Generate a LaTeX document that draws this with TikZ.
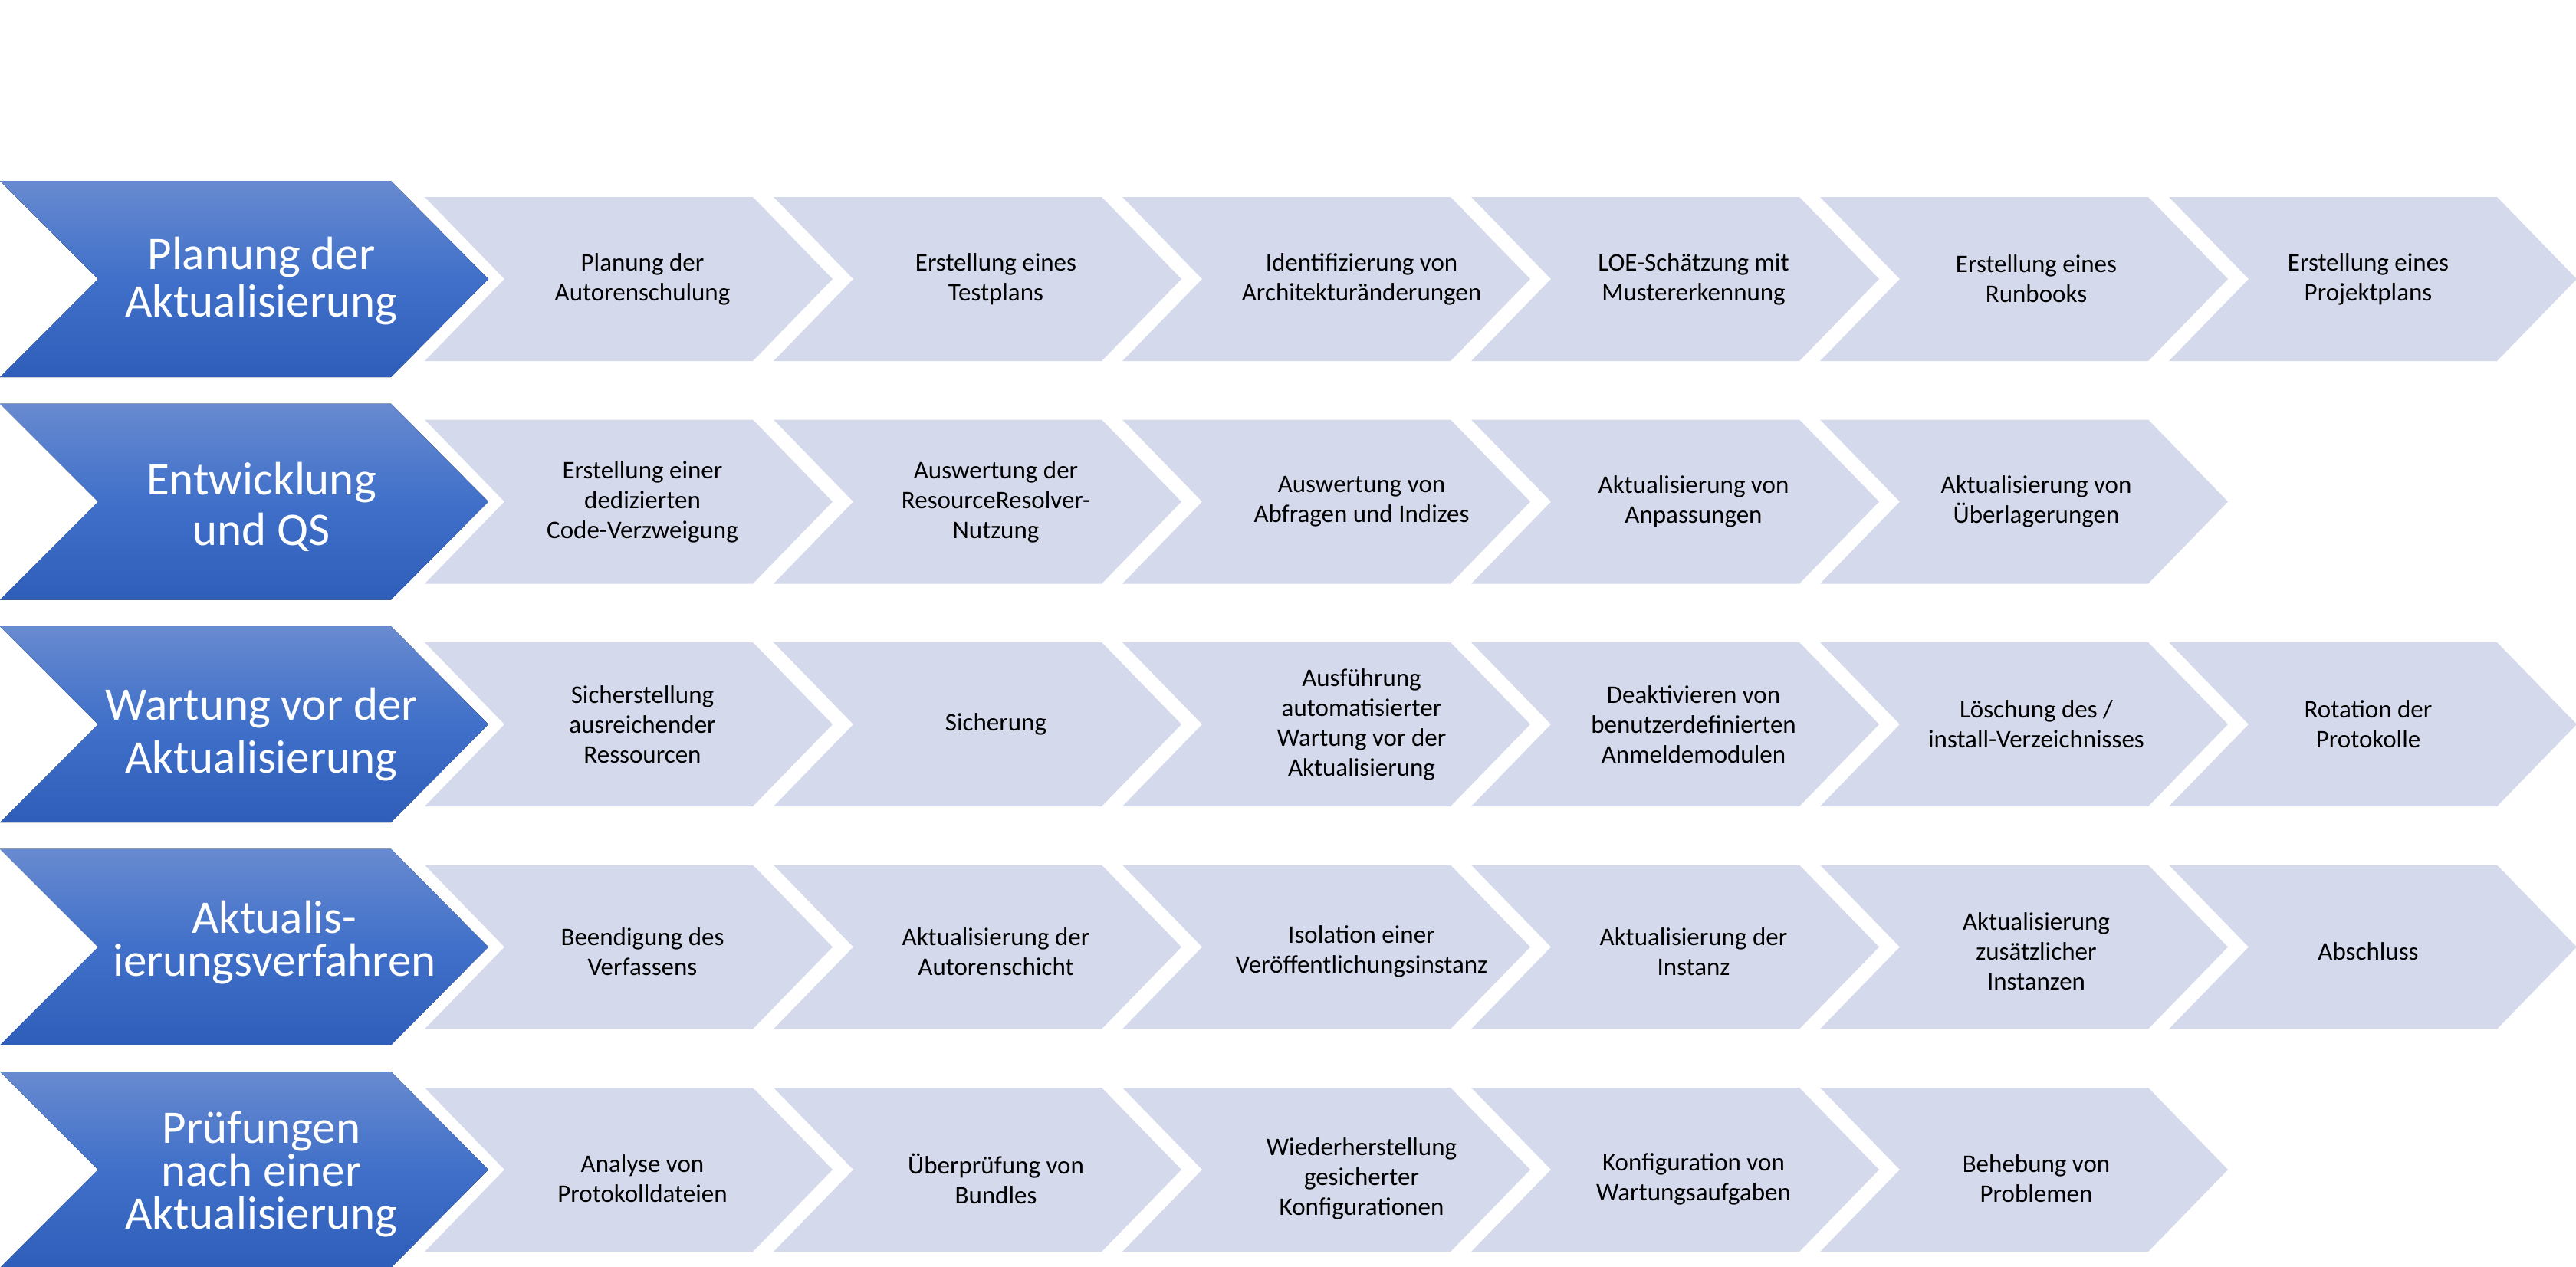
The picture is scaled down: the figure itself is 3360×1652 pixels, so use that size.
\documentclass[tikz,border=0pt]{standalone}
\usepackage{fontspec}
\setmainfont{Carlito}
\definecolor{bigtop}{RGB}{104,138,208}
\definecolor{bigmid}{RGB}{64,112,201}
\definecolor{bigbot}{RGB}{46,94,185}
\definecolor{chevlight}{RGB}{212,217,235}
\newcommand{\BigChev}[5]{% name, center y, baselineskip, text position, text
  \fill[bigfill] (0,#2-128) -- (510,#2-128) -- (637,#2) -- (510,#2+128) -- (0,#2+128) -- (128,#2) -- cycle;
  \node[bigtext=#3] (#1) at (#4) {#5};
}
\newcommand{\SmallChev}[5]{% name, index, center y, text y shift, text
  \pgfmathsetmacro\lx{554+455*#2}
  \pgfmathsetmacro\cx{{0,6,28,6,-2,-24}[#2]}
  \fill[smallfill] (\lx,#3-107) -- (\lx+428,#3-107) -- (\lx+532,#3) -- (\lx+428,#3+107) -- (\lx,#3+107) -- (\lx+104,#3) -- cycle;
  \node[smalltext] (#1) at (\lx+284+\cx,#3+#4) {#5};
}
\begin{document}
\begin{tikzpicture}[x=1pt,y=-1pt,
  bigfill/.style={top color=bigtop, bottom color=bigbot, middle color=bigmid, draw=none},
  smallfill/.style={fill=chevlight, draw=none},
  bigtext/.style={text=white, align=center, inner sep=0pt, font=\fontsize{61}{#1}\selectfont},
  smalltext/.style={text=black, align=center, inner sep=0pt, font=\fontsize{33}{39}\selectfont}]
\useasboundingbox (0,0) rectangle (3360,1652);
\fill[white] (0,0) rectangle (3360,1652);
% Row 1
\BigChev{r1}{364}{62}{341,367}{Planung der\\Aktualisierung}
\SmallChev{r1c1}{0}{364}{0}{Planung der\\Autorenschulung}
\SmallChev{r1c2}{1}{364}{0}{Erstellung eines\\Testplans}
\SmallChev{r1c3}{2}{364}{0}{Identifizierung von\\Architekturänderungen}
\SmallChev{r1c4}{3}{364}{0}{LOE-Schätzung mit\\Mustererkennung}
\SmallChev{r1c5}{4}{364}{0}{Erstellung eines\\Runbooks}
\SmallChev{r1c6}{5}{364}{0}{Erstellung eines\\Projektplans}
% Row 2
\BigChev{r2}{654.5}{66}{341,661}{Entwicklung\\und QS}
\SmallChev{r2c1}{0}{654.5}{0}{Erstellung einer\\dedizierten\\Code-Verzweigung}
\SmallChev{r2c2}{1}{654.5}{0}{Auswertung der\\ResourceResolver-\\Nutzung}
\SmallChev{r2c3}{2}{654.5}{0}{Auswertung von\\Abfragen und Indizes}
\SmallChev{r2c4}{3}{654.5}{0}{Aktualisierung von\\Anpassungen}
\SmallChev{r2c5}{4}{654.5}{0}{Aktualisierung von\\Überlagerungen}
% Row 3
\BigChev{r3}{945}{69}{341,958}{Wartung vor der\\Aktualisierung}
\SmallChev{r3c1}{0}{945}{0}{Sicherstellung\\ausreichender\\Ressourcen}
\SmallChev{r3c2}{1}{945}{0}{Sicherung}
\SmallChev{r3c3}{2}{945}{0}{Ausführung\\automatisierter\\Wartung vor der\\Aktualisierung}
\SmallChev{r3c4}{3}{945}{0}{Deaktivieren von\\benutzerdefinierten\\Anmeldemodulen}
\SmallChev{r3c5}{4}{945}{0}{Löschung des /\\install-Verzeichnisses}
\SmallChev{r3c6}{5}{945}{0}{Rotation der\\Protokolle}
% Row 4
\BigChev{r4}{1235.5}{56}{358,1229.5}{Aktualis-\\ierungsverfahren}
\SmallChev{r4c1}{0}{1235.5}{6}{Beendigung des\\Verfassens}
\SmallChev{r4c2}{1}{1235.5}{6}{Aktualisierung der\\Autorenschicht}
\SmallChev{r4c3}{2}{1235.5}{6}{Isolation einer\\Veröffentlichungsinstanz}
\SmallChev{r4c4}{3}{1235.5}{6}{Aktualisierung der\\Instanz}
\SmallChev{r4c5}{4}{1235.5}{6}{Aktualisierung\\zusätzlicher\\Instanzen}
\SmallChev{r4c6}{5}{1235.5}{6}{Abschluss}
% Row 5
\BigChev{r5}{1526}{56}{341,1532}{Prüfungen\\nach einer\\Aktualisierung}
\SmallChev{r5c1}{0}{1526}{12}{Analyse von\\Protokolldateien}
\SmallChev{r5c2}{1}{1526}{12}{Überprüfung von\\Bundles}
\SmallChev{r5c3}{2}{1526}{12}{Wiederherstellung\\gesicherter\\Konfigurationen}
\SmallChev{r5c4}{3}{1526}{12}{Konfiguration von\\Wartungsaufgaben}
\SmallChev{r5c5}{4}{1526}{12}{Behebung von\\Problemen}
\end{tikzpicture}
\end{document}
